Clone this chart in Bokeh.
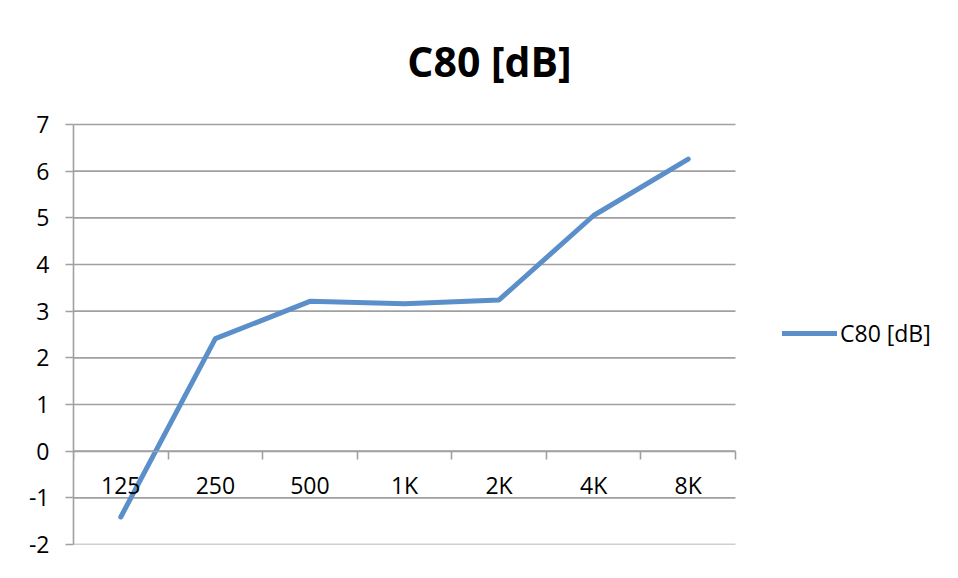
from bokeh.plotting import figure
from bokeh.models import Range1d, LinearAxis, FixedTicker, Legend, LegendItem, Label
from bokeh.embed import file_html
from bokeh.resources import INLINE

# ---- data ----
categories = ["125", "250", "500", "1K", "2K", "4K", "8K"]
c80_values = [-1.41, 2.41, 3.21, 3.16, 3.24, 5.05, 6.26]
y_ticks = [-2, -1, 0, 1, 2, 3, 4, 5, 6, 7]
y_tick_labels = ["-2", "-1", "0", "1", "2", "3", "4", "5", "6", "7"]
series_name = "C80 [dB]"
chart_title = "C80 [dB]"

# ---- style / layout ----
GRAY = "#a0a0a0"
BLUE = "#5b8fc9"
FONT = "Open Sans"
W, H = 958, 578
AREA_L, AREA_R, AREA_T, AREA_B = 73, 735, 124, 544   # plot area in pixels
TITLE_CX, TITLE_BASE = 489, 60                          # title centre / baseline in pixels

n = len(categories)
positions = [i + 0.5 for i in range(n)]
boundaries = list(range(n + 1))
y_lo, y_hi = y_ticks[0], y_ticks[-1]
x_per_px = n / (AREA_R - AREA_L)
y_per_px = (y_hi - y_lo) / (AREA_B - AREA_T)

# frame spans from AREA_L to the right edge and from the top edge to AREA_B
x_end = n + (W - AREA_R) * x_per_px
y_end = y_hi + AREA_T * y_per_px

p = figure(width=W, height=H, output_backend="svg", toolbar_location=None,
           x_range=Range1d(0, x_end), y_range=Range1d(y_lo, y_end),
           x_axis_type=None, y_axis_type=None,
           min_border_left=AREA_L, min_border_right=0, min_border_top=0, min_border_bottom=H - AREA_B)
p.outline_line_color = None
p.background_fill_color = "white"
p.border_fill_color = "white"

# horizontal gridlines over the plot area
p.segment(x0=[0] * len(y_ticks), x1=[n] * len(y_ticks), y0=y_ticks, y1=y_ticks,
          line_color=GRAY, line_width=1.6)

# y axis
yaxis = LinearAxis(ticker=FixedTicker(ticks=y_ticks), bounds=(y_lo, y_hi),
                   major_label_overrides={t: s for t, s in zip(y_ticks, y_tick_labels)},
                   major_tick_in=0, major_tick_out=8,
                   minor_tick_line_color=None, axis_line_color=GRAY, axis_line_width=1.6,
                   major_tick_line_color=GRAY, major_tick_line_width=1.6,
                   major_label_text_font=FONT, major_label_text_font_size="23px",
                   major_label_standoff=16, major_label_text_color="black")
p.add_layout(yaxis, "left")

# x axis at y=0: boundary ticks
xaxis_ticks = LinearAxis(fixed_location=0, ticker=FixedTicker(ticks=boundaries), bounds=(0, n),
                         major_tick_in=0, major_tick_out=8, minor_tick_line_color=None,
                         axis_line_color=GRAY, axis_line_width=1.6,
                         major_tick_line_color=GRAY, major_tick_line_width=1.6,
                         major_label_text_color=None)
p.add_layout(xaxis_ticks, "below")

# x axis labels at category centres
xaxis_labels = LinearAxis(fixed_location=0, ticker=FixedTicker(ticks=positions), bounds=(0, n),
                          major_label_overrides={pos: cat for pos, cat in zip(positions, categories)},
                          major_tick_in=0, major_tick_out=0, major_tick_line_color=None,
                          minor_tick_line_color=None, axis_line_color=None,
                          major_label_text_font=FONT, major_label_text_font_size="23px",
                          major_label_standoff=18, major_label_text_color="black")
p.add_layout(xaxis_labels, "below")

r = p.line(positions, c80_values, line_color=BLUE, line_width=5, line_cap="round", line_join="round")

legend = Legend(items=[LegendItem(label=series_name, renderers=[r])], location=(709, 195),
                padding=0, margin=0, glyph_width=55, label_standoff=3,
                border_line_color=None, background_fill_alpha=0,
                label_text_font=FONT, label_text_font_size="23px", label_text_color="black")
p.add_layout(legend)

title = Label(x=(TITLE_CX - AREA_L) * x_per_px, y=y_hi + (AREA_T - TITLE_BASE) * y_per_px,
              text=chart_title, text_align="center", text_baseline="alphabetic",
              text_font=FONT, text_font_style="bold", text_font_size="41px", text_color="black")
p.add_layout(title)

open("out.html", "w").write(file_html(p, INLINE))
